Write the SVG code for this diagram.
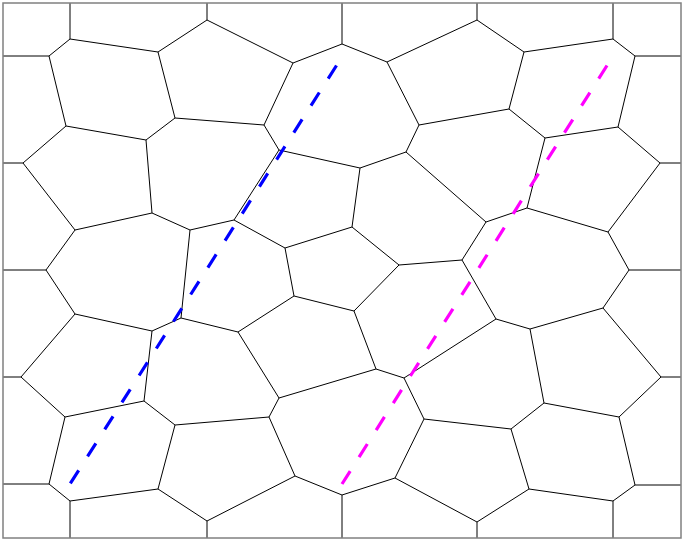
<svg xmlns="http://www.w3.org/2000/svg" width="684" height="541" viewBox="0 0 684 541">
<style>
.edge{fill:none;stroke:#000;stroke-width:1;stroke-linejoin:round}
.frame{fill:none;stroke:#808080;stroke-width:1.5}
.dash{fill:none;stroke-width:3.2;stroke-dasharray:15.5 16.5}
</style>
<rect width="684" height="541" fill="#fff"/>
<g id="cells" class="edge">
<path d="M70,3L70,39M207,3L207,20M342,3L342,44M477,3L477,20M613,3L613,39
M3,56L49,56M3,163L23,163M3,270L46,270M3,377L21,377M3,484L49,484
M681,56L635,56M681,163L660,163M681,270L629,270M681,377L661,377M681,485L635,485
M70,501L70,538M207,521L207,538M342,495L342,538M477,522L477,538M613,501L613,538
M49,56L70,39L158,52L207,20L293,63L342,44L387,62L477,20L524,52L613,39L635,56
M158,52L175,118L146,140L66,126L49,56
M175,118L264,125L293,63
M66,126L23,163L75,230L152,213L146,140
M264,125L279,150L360,168L406,152L419,125L387,62
M360,168L352,227
M406,152L486,222L527,208L545,138L509,109L419,125
M524,52L509,109
M635,56L618,127L545,138
M618,127L660,163L608,232L527,208
M279,150L234,220L190,230L152,213
M75,230L46,270L75,314L152,331L181,318L190,230
M181,318L238,332L294,296L285,248L234,220
M285,248L352,227L399,265L462,260L486,222
M294,296L354,311L399,265
M152,331L144,401
M75,314L21,377L65,417L144,401L175,425L158,489L70,501L49,484L65,417
M238,332L279,398L376,369L354,311
M376,369L404,378L496,319L462,260
M496,319L530,329L603,308L629,270L608,232
M530,329L544,403L619,417L661,377L603,308
M158,489L207,521L295,476L269,417L175,425
M279,398L269,417
M295,476L342,495L395,478L424,419L404,378
M424,419L511,429L544,403
M395,478L477,522L529,489L511,429
M529,489L613,501L635,485L619,417"/>
</g>
<g id="lines">
<line id="blue-line" class="dash" stroke="#0000ff" x1="336.5" y1="65.5" x2="70" y2="484"/>
<line id="magenta-line" class="dash" stroke="#ff00ff" x1="607" y1="65.5" x2="342" y2="484"/>
</g>
<rect id="frame" class="frame" x="3" y="3" width="678" height="535"/>
</svg>
